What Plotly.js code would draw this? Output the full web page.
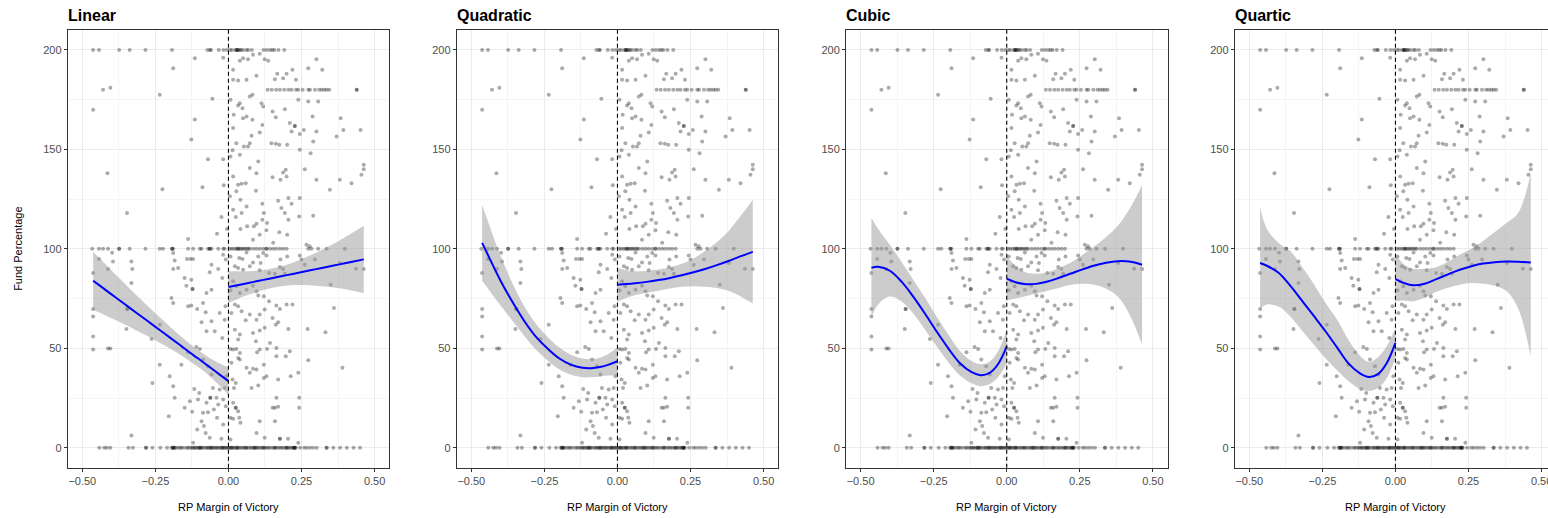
<!DOCTYPE html>
<html><head><meta charset="utf-8">
<script src="https://cdn.plot.ly/plotly-3.0.1.min.js"></script>
<style>html,body{margin:0;padding:0;overflow:hidden;background:#fff}#chart{width:1560px;height:518px}</style>
</head><body><div id="chart"></div>
<script>
// ---------- data ----------
const panelTitles = ['Linear', 'Quadratic', 'Cubic', 'Quartic'];
const xAxisTitle = 'RP Margin of Victory';
const yAxisTitle = 'Fund Percentage';
const cutoff = 0;

// points lying on the horizontal "rows"
const row200X = [-0.463,-0.443,-0.374,-0.338,-0.284,-0.193,-0.072,-0.063,-0.060,-0.033,-0.017,-0.005,0.005,0.012,0.023,0.028,0.030,0.030,0.034,0.040,0.043,0.051,0.062,0.068,0.080,0.120,0.131,0.142,0.150,0.157,0.171,0.191];
const row180X = [0.134,0.148,0.163,0.176,0.191,0.205,0.216,0.231,0.239,0.254,0.273,0.279,0.296,0.310,0.319,0.328,0.336,0.345,0.439,0.439];
const row100X = [-0.466,-0.443,-0.429,-0.412,-0.374,-0.374,-0.338,-0.284,-0.235,-0.224,-0.193,-0.193,-0.189,-0.138,-0.121,-0.098,-0.092,-0.070,-0.064,-0.064,-0.058,-0.035,-0.018,-0.013,0.005,0.012,0.020,0.027,0.033,0.033,0.039,0.045,0.050,0.056,0.062,0.068,0.073,0.085,0.096,0.107,0.119,0.130,0.130,0.142,0.153,0.164,0.176,0.187,0.199,0.273,0.284,0.307,0.336,0.398];
const row0X = [-0.442,-0.425,-0.416,-0.404,-0.342,-0.327,-0.282,-0.282,-0.260,-0.233,-0.210,-0.195,-0.190,-0.190,-0.187,-0.185,-0.180,-0.172,-0.165,-0.160,-0.152,-0.142,-0.138,-0.130,-0.125,-0.120,-0.115,-0.112,-0.105,-0.100,-0.100,-0.095,-0.092,-0.088,-0.080,-0.075,-0.070,-0.066,-0.060,-0.060,-0.055,-0.050,-0.045,-0.040,-0.036,-0.030,-0.025,-0.020,-0.020,-0.015,-0.010,-0.006,-0.002,0.003,0.008,0.010,0.012,0.018,0.022,0.028,0.030,0.032,0.038,0.044,0.050,0.055,0.060,0.062,0.068,0.075,0.080,0.086,0.090,0.090,0.096,0.100,0.106,0.112,0.118,0.120,0.124,0.130,0.136,0.142,0.150,0.156,0.160,0.162,0.170,0.176,0.182,0.188,0.195,0.200,0.200,0.206,0.212,0.218,0.222,0.225,0.226,0.228,0.230,0.245,0.259,0.268,0.279,0.290,0.302,0.336,0.336,0.359,0.382,0.405,0.428,0.450];

// scattered points [x, y]
const leftUpperPts = [[-0.463,169.9],[-0.429,180],[-0.404,181],[-0.414,138],[-0.347,118],[-0.235,177.4],[-0.226,130],[-0.189,190.8],[-0.115,195.8],[-0.115,165],[-0.127,155],[-0.089,131],[-0.055,175.4],[-0.070,145],[-0.018,145],[-0.016,132],[-0.018,196],[-0.024,116],[-0.039,107.6],[-0.138,105],[-0.005,110]];
const leftMidPts = [[-0.463,87.9],[-0.463,69.8],[-0.463,66],[-0.463,56],[-0.463,49.4],[-0.443,94.9],[-0.412,89.9],[-0.398,98],[-0.395,93.7],[-0.332,93.7],[-0.329,89.9],[-0.332,82.8],[-0.346,69.8],[-0.346,69.8],[-0.349,59.7],[-0.412,49.9],[-0.404,49.9],[-0.235,61.9],[-0.263,54.7],[-0.189,97.9],[-0.184,94.2],[-0.189,89.9],[-0.172,90.4],[-0.195,75.3],[-0.189,72.8],[-0.142,94.9],[-0.130,94.9],[-0.121,94.9],[-0.150,85.4],[-0.144,81.5],[-0.123,79.8],[-0.123,79.8],[-0.127,84.5],[-0.138,71.1],[-0.127,71.5],[-0.107,69.8],[-0.087,72.8],[-0.058,92],[-0.064,88.2],[-0.058,79.5],[-0.075,77.8],[-0.078,68.1],[-0.092,63.1],[-0.058,63.6],[-0.075,58.6],[-0.047,58.6],[-0.030,67.8],[-0.021,55.2],[-0.035,89.9],[-0.018,97],[-0.009,94.6],[-0.021,85.4],[-0.010,71.1],[-0.013,64.4],[-0.110,50.7],[-0.098,49.7]];
const leftLowPts = [[-0.332,6.2],[-0.260,32.6],[-0.235,41.8],[-0.204,15.9],[-0.201,36],[-0.184,25.1],[-0.189,31],[-0.161,41.8],[-0.150,20.1],[-0.138,48],[-0.132,23.4],[-0.124,18.1],[-0.121,2.5],[-0.117,29.6],[-0.107,9.2],[-0.104,24.3],[-0.100,27.6],[-0.092,13.4],[-0.087,17.6],[-0.084,10.9],[-0.078,7.5],[-0.075,22.6],[-0.070,17.9],[-0.064,5],[-0.062,25.1],[-0.062,25.1],[-0.053,30.1],[-0.050,19.2],[-0.041,25.1],[-0.039,15.1],[-0.035,21.8],[-0.030,29.3],[-0.024,4.5],[-0.018,24.3],[-0.018,11.7],[-0.013,30.1],[-0.009,20.9],[-0.007,36],[-0.058,36.8],[-0.070,41],[-0.087,44.4]];
const rightUpperPts = [[0.016,190],[0.039,194.5],[0.050,195.8],[0.067,195.3],[0.084,197.5],[0.107,198],[0.124,195.3],[0.136,194.6],[0.016,185],[0.033,184.6],[0.062,185],[0.096,187],[0.039,173.2],[0.033,172],[0.048,170.7],[0.073,176.6],[0.082,177.4],[0.113,173.2],[0.119,171.5],[0.007,174.9],[0.018,167.4],[0.050,165.7],[0.062,166.5],[0.082,164.9],[0.016,160.7],[0.079,156.8],[0.107,158.5],[0.116,162.3],[0.014,149.5],[0.027,153.1],[0.053,151.5],[0.067,151.5],[0.073,153.1],[0.039,147.3],[0.007,146.4],[0.102,143.9],[0.073,140.6],[0.096,138],[0.016,136.4],[0.033,132.2],[0.045,132.7],[0.059,133],[0.094,129.2],[0.027,128.9],[0.005,126.4],[0.041,124.7],[0.116,122.7],[0.016,119.7],[0.062,121.3],[0.121,118],[0.045,118],[0.025,116],[0.116,114.6],[0.096,112.6],[0.087,111.3],[0.064,111.3],[0.041,110],[0.130,109.3],[0.107,107.1],[0.084,104.6],[0.159,185.3],[0.167,188],[0.199,188],[0.187,185.8],[0.219,190],[0.231,185],[0.273,190.8],[0.301,195.3],[0.321,190],[0.239,174.9],[0.273,174],[0.307,174],[0.151,169],[0.162,166.2],[0.193,170.2],[0.210,163.2],[0.227,161.8],[0.227,161.8],[0.216,159],[0.244,157.7],[0.258,159.8],[0.288,166.5],[0.301,159],[0.384,165.7],[0.393,159.8],[0.370,156.5],[0.452,159.8],[0.147,153.1],[0.162,152.8],[0.174,152.3],[0.201,152.3],[0.244,149.8],[0.281,148.1],[0.290,154],[0.196,139.7],[0.187,138.4],[0.178,134.7],[0.151,136],[0.199,136.4],[0.261,140],[0.301,134.7],[0.381,134.7],[0.421,133],[0.455,137.2],[0.463,140],[0.463,142.3],[0.347,129.7],[0.170,124.2],[0.181,120.5],[0.205,125.5],[0.216,122.7],[0.244,125.5],[0.193,118],[0.205,114.6],[0.242,116.3],[0.290,116.6],[0.174,108.3],[0.201,107.1],[0.153,103.1],[0.267,102.1],[0.278,101.3],[0.132,113]];
const rightMidPts = [[0.007,96.2],[0.037,95.4],[0.048,94.9],[0.062,98.2],[0.022,91.2],[0.033,90.4],[0.050,89.5],[0.073,91.2],[0.084,93.2],[0.102,96.2],[0.119,97.9],[0.130,96.6],[0.110,92.9],[0.107,89.2],[0.139,87.9],[0.159,87.5],[0.176,90.9],[0.187,89.9],[0.193,87.5],[0.201,96.2],[0.178,94.6],[0.244,96.6],[0.250,94.6],[0.261,92],[0.296,94.6],[0.381,92.9],[0.436,90],[0.463,89.9],[0.016,83.7],[0.027,81.2],[0.007,79.2],[0.039,77.8],[0.062,79.5],[0.084,81.5],[0.096,78.7],[0.102,76.5],[0.121,76.2],[0.022,72],[0.033,71.1],[0.045,68.6],[0.010,67.8],[0.059,64.1],[0.073,67],[0.096,64.4],[0.107,67],[0.124,69.5],[0.139,73.6],[0.164,71.5],[0.176,69.8],[0.199,72],[0.219,72],[0.151,65.3],[0.162,61.9],[0.170,63.1],[0.124,60.3],[0.107,58.9],[0.022,59.4],[0.039,56.9],[0.033,54.4],[0.084,57.7],[0.094,53.6],[0.142,52.7],[0.164,50.2],[0.205,59.7],[0.271,59.7],[0.332,58.1],[0.361,70.3],[0.350,82]];
const rightLowPts = [[0.007,49.7],[0.016,49.4],[0.027,49.7],[0.039,47.7],[0.033,45.2],[0.039,44.4],[0.010,42.7],[0.098,48],[0.107,49.4],[0.132,49.7],[0.164,46],[0.196,46],[0.210,48.5],[0.062,40.2],[0.084,39.7],[0.096,39.3],[0.073,37.7],[0.121,41.8],[0.121,35.1],[0.130,36],[0.170,34.3],[0.213,36],[0.239,37.7],[0.273,44],[0.390,40.2],[0.014,34.3],[0.025,32.6],[0.019,30.1],[0.079,30.1],[0.102,31.3],[0.164,25.1],[0.159,20.1],[0.151,20.1],[0.170,20.6],[0.242,25.1],[0.242,20.1],[0.016,22.6],[0.025,20.1],[0.025,20.1],[0.033,18.4],[0.007,15.1],[0.016,14.6],[0.041,12.6],[0.037,15.1],[0.107,13.4],[0.159,13.4],[0.096,7.5],[0.124,5],[0.176,4.5],[0.176,4.5],[0.204,4.5],[0.239,2.5],[0.007,4.2]];

// fitted curves and 95% bands
const leftX  = [-0.463,-0.44,-0.40,-0.36,-0.32,-0.28,-0.24,-0.20,-0.16,-0.12,-0.09,-0.06,-0.03,0];
const rightX = [0,0.03,0.06,0.10,0.14,0.18,0.22,0.26,0.30,0.34,0.38,0.42,0.463];

const linearLeftFit  = [84.0,81.5,77.1,72.8,68.4,64.1,59.7,55.4,51.0,46.6,43.4,40.1,36.8,33.5];
const linearLeftLo   = [69.4,67.9,65.1,62.3,59.4,56.4,53.2,49.9,46.3,42.3,39.2,35.5,31.2,26.5];
const linearLeftHi   = [98.6,95.1,89.1,83.3,77.4,71.8,66.2,60.9,55.7,50.9,47.6,44.7,42.4,40.5];
const linearRightFit = [80.8,81.7,82.6,83.8,85.0,86.2,87.4,88.6,89.8,91.0,92.2,93.4,94.7];
const linearRightLo  = [72.8,74.7,76.5,78.5,80.1,81.2,81.8,81.8,81.5,81.0,80.2,79.1,77.8];
const linearRightHi  = [88.8,88.7,88.7,89.1,89.9,91.2,93.0,95.4,98.1,101.0,104.2,107.7,111.6];

const quadLeftFit  = [103,96,84,73.5,64,56,50,45,41.8,40.2,40,40.6,41.8,43.5];
const quadLeftLo   = [84,79.5,71.5,64,56.5,49.5,44,39.5,36.8,35.5,35.4,35.9,36.3,36.5];
const quadLeftHi   = [122,112.5,96.5,83,71.5,62.5,56,50.5,46.8,44.9,44.6,45.3,47.3,50.5];
const quadRightFit = [82,82.3,82.7,83.4,84.3,85.4,86.7,88.2,89.9,91.8,93.9,96.2,98.5];
const quadRightLo  = [73.5,75.3,76.7,77.9,79.0,80.1,80.9,81.2,80.9,80.3,78.9,76.2,72.5];
const quadRightHi  = [90.5,89.3,88.7,88.9,89.6,90.7,92.5,95.2,98.9,103.3,108.9,116.2,124.5];

const cubicLeftFit  = [90.5,91,89,83.5,76,67.5,58.5,50,42.5,38,36.5,37.5,42,51];
const cubicLeftLo   = [65.5,72,76,73.5,67.5,59.5,51,43,36.3,32.4,31,31.9,35.5,42.5];
const cubicLeftHi   = [115.5,110,102,93.5,84.5,75.5,66,57,48.7,43.6,42,43.1,48.5,59.5];
const cubicRightFit = [85,83.2,82.3,82.4,83.6,85.5,87.6,89.7,91.6,93,93.8,93.6,92];
const cubicRightLo  = [74,75,76,77.5,79,80.5,82,82.5,82,80,76,67,52];
const cubicRightHi  = [96,91.5,88.5,87.5,88.3,90.5,93.2,97,101.3,106,111.6,120,132];

const quarticLeftFit  = [92.9,91.5,88,81.5,74,66.4,58.7,50.5,42.3,37.3,35.6,37,42.5,52.7];
const quarticLeftLo   = [70,72,71,66,59,52,45,39,33.5,29.5,28.5,30,35,45.2];
const quarticLeftHi   = [121,110,103,99,91,82.5,73,64.5,54,46,43,45.5,51,60.3];
const quarticRightFit = [84.8,82.8,81.7,82.5,84.8,87.2,89.5,91.3,92.6,93.3,93.6,93.5,93.2];
const quarticRightLo  = [73.5,74,73.6,75.5,78.5,80.5,82,82.8,82.5,81.5,78.8,70,46];
const quarticRightHi  = [97.5,92,90,90,90.8,93.5,97,100,104,108.5,113,118,138];

// ---------- build ----------
const fits = [
  [linearLeftFit, linearLeftLo, linearLeftHi, linearRightFit, linearRightLo, linearRightHi],
  [quadLeftFit, quadLeftLo, quadLeftHi, quadRightFit, quadRightLo, quadRightHi],
  [cubicLeftFit, cubicLeftLo, cubicLeftHi, cubicRightFit, cubicRightLo, cubicRightHi],
  [quarticLeftFit, quarticLeftLo, quarticLeftHi, quarticRightFit, quarticRightLo, quarticRightHi]
];

const ptX = [], ptY = [];
row200X.forEach(x => { ptX.push(x); ptY.push(200); });
row180X.forEach(x => { ptX.push(x); ptY.push(180); });
row100X.forEach(x => { ptX.push(x); ptY.push(100); });
row0X.forEach(x => { ptX.push(x); ptY.push(0); });
[leftUpperPts, leftMidPts, leftLowPts, rightUpperPts, rightMidPts, rightLowPts].forEach(g =>
  g.forEach(p => { ptX.push(p[0]); ptY.push(p[1]); }));

const W = 1560, H = 518;
const panelLeftPx = [67.7, 456.7, 846, 1234.7];
const panelWidthPx = 321.5;
const plotTopPx = 30, plotBottomPx = 467.7;
const yDomain = [(H - plotBottomPx) / H, (H - plotTopPx) / H];
const FONT = '"Liberation Sans", Arial, Helvetica, sans-serif';

const traces = [], shapes = [], annotations = [];
const layout = {
  width: W, height: H, margin: {l: 0, r: 0, t: 0, b: 0},
  paper_bgcolor: '#ffffff', plot_bgcolor: '#ffffff', showlegend: false,
  font: {family: FONT, size: 11, color: '#4d4d4d'}
};

for (let i = 0; i < 4; i++) {
  const n = i === 0 ? '' : String(i + 1);
  const xa = 'x' + n, ya = 'y' + n;
  const d0 = panelLeftPx[i] / W, d1 = (panelLeftPx[i] + panelWidthPx) / W;
  const [lf, llo, lhi, rf, rlo, rhi] = fits[i];

  traces.push({x: ptX, y: ptY, xaxis: xa, yaxis: ya, type: 'scatter', mode: 'markers',
    marker: {size: 4, color: 'rgba(0,0,0,0.33)', line: {width: 0}}, hoverinfo: 'skip'});
  [[leftX, llo, lhi], [rightX, rlo, rhi]].forEach(([xs, lo, hi]) => {
    traces.push({x: xs, y: lo, xaxis: xa, yaxis: ya, type: 'scatter', mode: 'lines',
      line: {width: 0, shape: 'spline', color: 'rgba(0,0,0,0)'}, hoverinfo: 'skip'});
    traces.push({x: xs, y: hi, xaxis: xa, yaxis: ya, type: 'scatter', mode: 'lines',
      fill: 'tonexty', fillcolor: 'rgba(153,153,153,0.5)',
      line: {width: 0, shape: 'spline', color: 'rgba(0,0,0,0)'}, hoverinfo: 'skip'});
  });
  [[leftX, lf], [rightX, rf]].forEach(([xs, ys]) => {
    traces.push({x: xs, y: ys, xaxis: xa, yaxis: ya, type: 'scatter', mode: 'lines',
      line: {color: '#0000ff', width: 2, shape: 'spline'}, hoverinfo: 'skip'});
  });

  const common = {
    showgrid: true, gridcolor: '#ebebeb', gridwidth: 1, zeroline: false,
    showline: true, mirror: true, linecolor: '#333333', linewidth: 1,
    ticks: 'outside', ticklen: 3, tickwidth: 1, tickcolor: '#333333',
    tickfont: {family: FONT, size: 11, color: '#4d4d4d'}, fixedrange: true
  };
  layout['xaxis' + n] = Object.assign({}, common, {
    domain: [d0, d1], anchor: ya, range: [-0.55, 0.55],
    tickmode: 'linear', tick0: 0, dtick: 0.25, tickformat: '.2f',
    minor: {tick0: 0, dtick: 0.125, showgrid: true, gridcolor: '#ebebeb', gridwidth: 0.5, ticks: ''}
  });
  layout['yaxis' + n] = Object.assign({}, common, {
    domain: yDomain, anchor: xa, range: [-10, 210],
    tickmode: 'linear', tick0: 0, dtick: 50,
    minor: {tick0: 0, dtick: 25, showgrid: true, gridcolor: '#ebebeb', gridwidth: 0.5, ticks: ''}
  });

  shapes.push({type: 'line', xref: xa, yref: ya + ' domain', x0: cutoff, x1: cutoff, y0: 0, y1: 1,
    line: {color: '#000000', width: 1.1, dash: '4px,3px'}, layer: 'above'});

  annotations.push({text: '<b>' + panelTitles[i] + '</b>', xref: 'paper', yref: 'paper',
    x: d0, xshift: -2, y: 1 - 15 / H, xanchor: 'left', yanchor: 'middle', showarrow: false,
    font: {family: FONT, size: 16, color: '#000000'}});
  annotations.push({text: xAxisTitle, xref: 'paper', yref: 'paper',
    x: (d0 + d1) / 2, y: 1 - 507 / H, xanchor: 'center', yanchor: 'middle', showarrow: false,
    font: {family: FONT, size: 11, color: '#000000'}});
}
annotations.push({text: yAxisTitle, xref: 'paper', yref: 'paper', textangle: -90,
  x: 18 / W, y: 1 - ((plotTopPx + plotBottomPx) / 2) / H, xanchor: 'center', yanchor: 'middle',
  showarrow: false, font: {family: FONT, size: 11, color: '#000000'}});

layout.shapes = shapes;
layout.annotations = annotations;
Plotly.newPlot('chart', traces, layout, {staticPlot: true, displayModeBar: false});
</script>
</body></html>
